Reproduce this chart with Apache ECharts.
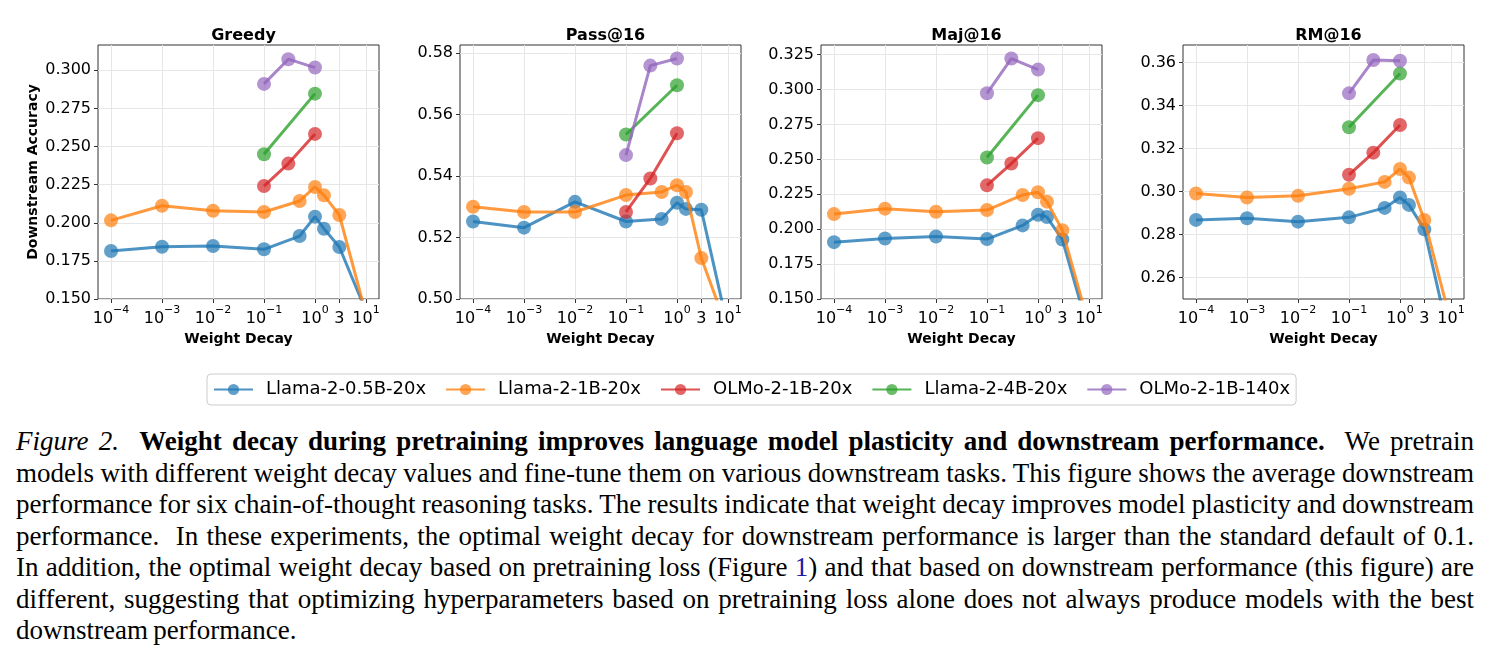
<!DOCTYPE html>
<html>
<head>
<meta charset="utf-8">
<script src="https://cdn.jsdelivr.net/npm/echarts@6/dist/echarts.min.js"></script>
<style>
  html, body { margin: 0; padding: 0; background: #fff; }
  #chart { position: absolute; left: 0; top: 0; width: 1496px; height: 420px; }
  #caption {
    position: absolute; left: 16px; top: 426px; width: 1458px;
    font-family: "Liberation Serif", "Times New Roman", serif;
    font-size: 27px; line-height: 31.5px; color: #000; word-spacing: -1.5px;
  }
  #caption div { white-space: nowrap; text-align: justify; text-align-last: justify; }
  #caption div.last { text-align-last: left; }
  #caption .ref { color: #1a1aa6; }
</style>
</head>
<body>
<div id="chart"></div>
<div id="caption">
  <div><i>Figure 2.</i>&nbsp; <b>Weight decay during pretraining improves language model plasticity and downstream performance.</b>&nbsp; We pretrain</div>
  <div>models with different weight decay values and fine-tune them on various downstream tasks. This figure shows the average downstream</div>
  <div>performance for six chain-of-thought reasoning tasks. The results indicate that weight decay improves model plasticity and downstream</div>
  <div>performance.&nbsp; In these experiments, the optimal weight decay for downstream performance is larger than the standard default of 0.1.</div>
  <div>In addition, the optimal weight decay based on pretraining loss (Figure <span class="ref">1</span>) and that based on downstream performance (this figure) are</div>
  <div>different, suggesting that optimizing hyperparameters based on pretraining loss alone does not always produce models with the best</div>
  <div class="last">downstream performance.</div>
</div>
<script>
// x values (weight decay)
const wdFull = [1e-4, 1e-3, 1e-2, 1e-1, 0.5, 1, 1.5, 3, 10];
const wdThree = [0.1, 0.3, 1];
const wdTwo = [0.1, 1];
const xTicks = [1e-4, 1e-3, 1e-2, 1e-1, 1, 3, 10];

const panelTitles = ["Greedy", "Pass@16", "Maj@16", "RM@16"];
const models = ["Llama-2-0.5B-20x", "Llama-2-1B-20x", "OLMo-2-1B-20x", "Llama-2-4B-20x", "OLMo-2-1B-140x"];
const colors = ["#1f77b4", "#ff7f0e", "#d62728", "#2ca02c", "#9467bd"];

// Greedy
const greedyLlama05 = [0.1815, 0.1843, 0.1848, 0.1826, 0.1913, 0.2040, 0.1961, 0.1841, 0.142];
const greedyLlama1 = [0.2016, 0.2112, 0.2079, 0.2071, 0.2143, 0.2235, 0.2180, 0.2051, 0.140];
const greedyOlmo20 = [0.2241, 0.2388, 0.2583];
const greedyLlama4 = [0.2449, 0.2847];
const greedyOlmo140 = [0.2911, 0.3073, 0.3018];
const greedyTicks = [0.150, 0.175, 0.200, 0.225, 0.250, 0.275, 0.300];

// Pass@16
const passLlama05 = [0.5252, 0.5232, 0.5316, 0.5252, 0.5260, 0.5313, 0.5293, 0.5290, 0.4905];
const passLlama1 = [0.5300, 0.5283, 0.5283, 0.5338, 0.5348, 0.5370, 0.5348, 0.5133, 0.4897];
const passOlmo20 = [0.5283, 0.5392, 0.5539];
const passLlama4 = [0.5535, 0.5695];
const passOlmo140 = [0.5468, 0.5759, 0.5782];
const passTicks = [0.50, 0.52, 0.54, 0.56, 0.58];

// Maj@16
const majLlama05 = [0.1907, 0.1933, 0.1948, 0.1929, 0.2027, 0.2103, 0.2087, 0.1926, 0.126];
const majLlama1 = [0.2108, 0.2147, 0.2125, 0.2137, 0.2245, 0.2264, 0.2197, 0.1993, 0.131];
const majOlmo20 = [0.2314, 0.2470, 0.2652];
const majLlama4 = [0.2513, 0.2960];
const majOlmo140 = [0.2973, 0.3222, 0.3143];
const majTicks = [0.150, 0.175, 0.200, 0.225, 0.250, 0.275, 0.300, 0.325];

// RM@16
const rmLlama05 = [0.2868, 0.2876, 0.2860, 0.2880, 0.2924, 0.2972, 0.2938, 0.2824, 0.228];
const rmLlama1 = [0.2991, 0.2972, 0.2980, 0.3013, 0.3045, 0.3105, 0.3065, 0.2868, 0.239];
const rmOlmo20 = [0.3078, 0.3181, 0.3310];
const rmLlama4 = [0.3299, 0.3549];
const rmOlmo140 = [0.3457, 0.3612, 0.3609];
const rmTicks = [0.26, 0.28, 0.30, 0.32, 0.34, 0.36];

const panelData = [
  [greedyLlama05, greedyLlama1, greedyOlmo20, greedyLlama4, greedyOlmo140],
  [passLlama05, passLlama1, passOlmo20, passLlama4, passOlmo140],
  [majLlama05, majLlama1, majOlmo20, majLlama4, majOlmo140],
  [rmLlama05, rmLlama1, rmOlmo20, rmLlama4, rmOlmo140],
];
const modelX = [wdFull, wdFull, wdThree, wdTwo, wdThree];
const yTicks = [greedyTicks, passTicks, majTicks, rmTicks];
const yDecimals = [3, 2, 3, 2];
const yRange = [[0.15, 0.3166], [0.50, 0.5826], [0.15, 0.3319], [0.25, 0.3682]];

// layout
const gridLefts = [98, 460, 821, 1183];
const gridTop = 45, gridW = 281, gridH = 254;
const FONT = "DejaVu Sans";

const chart = echarts.init(document.getElementById("chart"));

function xLabel(v) {
  if (Math.abs(v - 3) < 1e-9) return "{b|3}";
  const e = Math.round(Math.log10(v));
  return "{b|10}{s|" + (e < 0 ? "\u2212" + (-e) : e) + "}";
}

const grids = [], xAxes = [], yAxes = [], titles = [], series = [];
gridLefts.forEach((left, i) => {
  grids.push({
    left: left, top: gridTop, width: gridW, height: gridH,
    show: true, borderColor: "#333", borderWidth: 1,
    outerBoundsMode: "none", containLabel: false,
  });
  titles.push({
    text: panelTitles[i], left: left + gridW / 2, top: 22, textAlign: "center",
    textStyle: { fontFamily: FONT, fontWeight: "bold", fontSize: 16, color: "#000", lineHeight: 18 },
  });
  xAxes.push({
    type: "log", logBase: 10, gridIndex: i,
    min: Math.pow(10, -4.255), max: Math.pow(10, 1.255),
    name: "Weight Decay", nameLocation: "middle", nameGap: 26,
    nameTextStyle: { fontFamily: FONT, fontWeight: "bold", fontSize: 14, color: "#000" },
    axisLine: { show: false },
    axisTick: { show: true, length: 4, customValues: xTicks, lineStyle: { color: "#333" } },
    axisLabel: {
      customValues: xTicks, margin: 6, hideOverlap: false,
      formatter: xLabel,
      rich: {
        b: { fontFamily: FONT, fontSize: 16, color: "#000", lineHeight: 22, verticalAlign: "bottom" },
        s: { fontFamily: FONT, fontSize: 11, color: "#000", lineHeight: 12, verticalAlign: "top" },
      },
    },
    splitLine: { show: true, lineStyle: { color: "#e6e6e6", width: 1 } },
    minorTick: { show: false },
  });
  yAxes.push({
    type: "value", gridIndex: i,
    min: yRange[i][0], max: yRange[i][1],
    name: i === 0 ? "Downstream Accuracy" : "",
    nameLocation: "middle", nameGap: 58,
    nameTextStyle: { fontFamily: FONT, fontWeight: "bold", fontSize: 14, color: "#000" },
    axisLine: { show: false },
    axisTick: { show: true, length: 4, customValues: yTicks[i], lineStyle: { color: "#333" } },
    axisLabel: {
      customValues: yTicks[i], margin: 7, hideOverlap: false,
      fontFamily: FONT, fontSize: 16, color: "#000",
      formatter: (v) => v.toFixed(yDecimals[i]),
    },
    splitLine: { show: true, lineStyle: { color: "#e6e6e6", width: 1 } },
  });
  panelData[i].forEach((ys, m) => {
    series.push({
      name: models[m], type: "line",
      xAxisIndex: i, yAxisIndex: i,
      data: modelX[m].map((x, k) => [x, ys[k]]),
      symbol: "circle", symbolSize: 14, showSymbol: true,
      clip: true,
      itemStyle: { color: colors[m], opacity: 0.7 },
      lineStyle: { color: colors[m], width: 3, opacity: 0.8 },
      emphasis: { disabled: true },
      z: 2 + m,
    });
  });
});

chart.setOption({
  animation: false,
  title: titles,
  grid: grids,
  xAxis: xAxes,
  yAxis: yAxes,
  legend: {
    data: models,
    left: 207, top: 374,
    orient: "horizontal",
    padding: [6, 6],
    itemWidth: 39, itemHeight: 14, itemGap: 19,
    borderColor: "#cccccc", borderWidth: 1, borderRadius: 4,
    backgroundColor: "#fff",
    selectedMode: false,
    textStyle: { fontFamily: FONT, fontSize: 18, color: "#000", lineHeight: 19, padding: [0, 0, 0, 8] },
  },
  series: series,
});
</script>
</body>
</html>
